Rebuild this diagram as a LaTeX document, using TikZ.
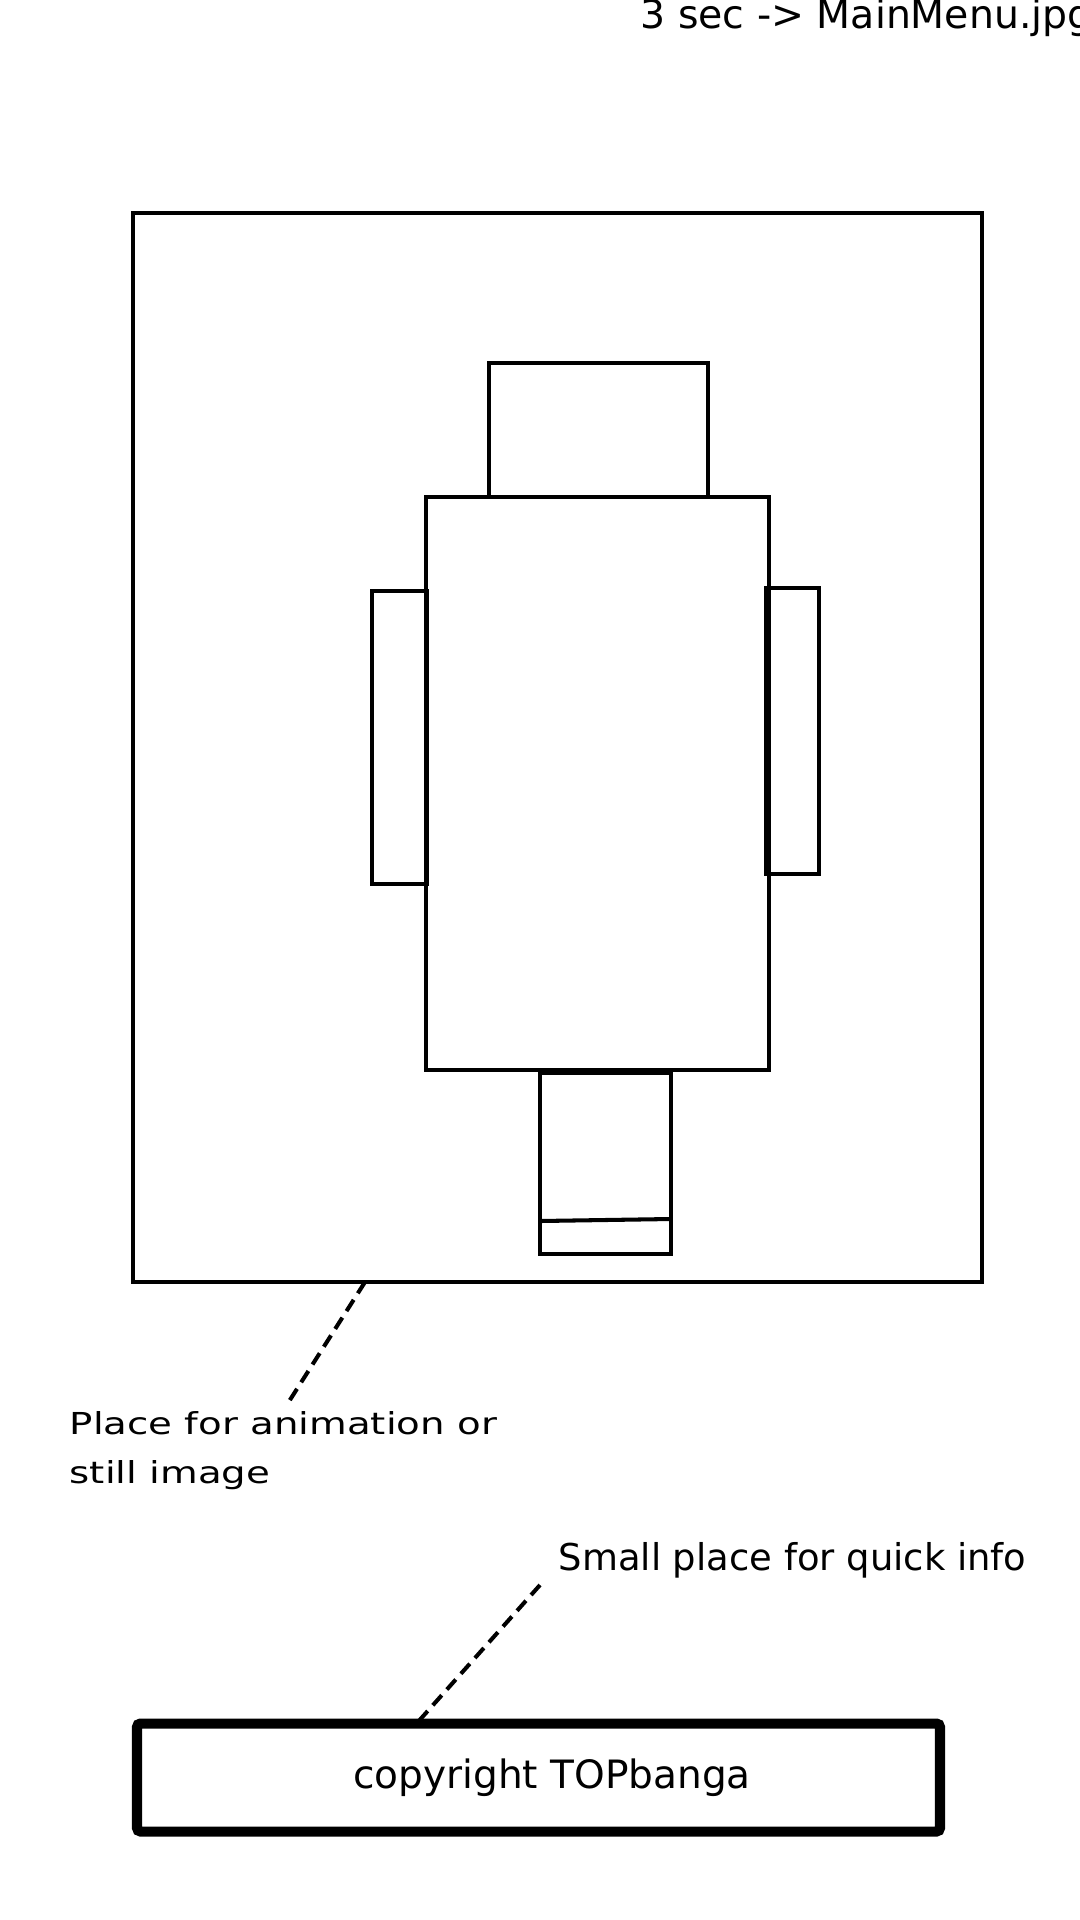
\documentclass[tikz,border=0pt]{standalone}
\usepackage{fontspec}
\setmainfont{DejaVu Sans}
\newfontfamily\widefont{DejaVu Sans}[FakeStretch=1.28]
\begin{document}
\begin{tikzpicture}[x=0.01cm,y=-0.01cm,
        part/.style={draw,line width=1.15pt},
        leader/.style={draw,line width=1.15pt,dash pattern=on 3.8pt off 2.2pt},
        note/.style={anchor=base west,inner sep=0pt}]
        \useasboundingbox (0,0) rectangle (1080,1920);

        \draw[part] (133,213) rectangle (982,1282);
        \draw[part] (489,363) rectangle (708,497);
        \draw[part] (426,497) rectangle (769,1070);
        \draw[part] (372,591) rectangle (427,884);
        \draw[part] (766,588) rectangle (819,874);
        \draw[part] (540,1073) rectangle (671,1254);
        \draw[part] (540,1221) -- (671,1219);

        \node[note,font=\fontsize{11.2}{13}\selectfont] (title) at (640,28) {3 sec -> MainMenu.jpg};
        \node[note,font=\widefont\fontsize{8.6}{13.66}\selectfont,align=left] (animlabel) at (69,1483) {Place for animation or\\still image};
        \node[note,font=\fontsize{10.5}{12}\selectfont] (infolabel) at (558,1570) {Small place for quick info};
        \node[draw,line width=2.85pt,rounded corners=1pt,minimum width=803*0.01cm,minimum height=108*0.01cm,inner sep=0pt,font=\fontsize{11.1}{13}\selectfont] (copyright) at (538.5,1777.5) {\hspace*{0.27cm}copyright TOPbanga};

        \coordinate (animtip) at (365,1282);
        \coordinate (animend) at (288,1403);
        \coordinate (infotip) at (540,1585);
        \coordinate (infoend) at (417,1723);
        \draw[leader] (animtip) -- (animend);
        \draw[leader] (infotip) -- (infoend);
    \end{tikzpicture}
\end{document}
